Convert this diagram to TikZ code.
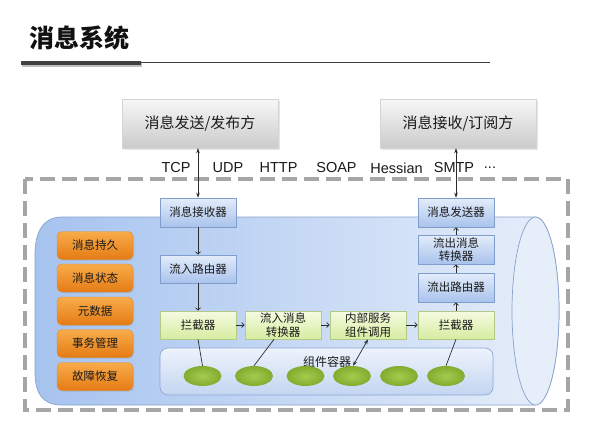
\documentclass[tikz,border=0pt]{standalone}
\usepackage{fontspec}
\setmainfont{Noto Sans CJK SC}
\newfontfamily\latinf{Liberation Sans}
\usetikzlibrary{arrows.meta,shadows,shapes.geometric}
\definecolor{txt}{HTML}{1A1A1A}
\definecolor{lineC}{HTML}{2B2B2B}
\definecolor{dashC}{HTML}{A6A6A6}
\definecolor{cylL}{HTML}{A6C3EF}
\definecolor{cylR}{HTML}{E6EEFA}
\definecolor{cylB}{HTML}{8AA2CB}
\definecolor{boxblueT}{HTML}{E3ECFA}
\definecolor{boxblueD}{HTML}{A9C3EC}
\definecolor{boxblueB}{HTML}{7F9DCD}
\definecolor{grnT}{HTML}{F5FBE2}
\definecolor{grnD}{HTML}{D6ECA0}
\definecolor{grnB}{HTML}{B2C98A}
\definecolor{orT}{HTML}{F8AC4A}
\definecolor{orD}{HTML}{E57B14}
\definecolor{orB}{HTML}{E08A2E}
\definecolor{grayT}{HTML}{F7F7F7}
\definecolor{grayD}{HTML}{CBCBCB}
\definecolor{contT}{HTML}{EEF3FC}
\definecolor{contD}{HTML}{C3D5F1}
\definecolor{contB}{HTML}{8EA8D6}
\definecolor{ellIn}{HTML}{A5CB50}
\definecolor{ellOut}{HTML}{82AC2E}
\definecolor{titleC}{HTML}{111111}
\definecolor{barC}{HTML}{404040}
\begin{document}
\begin{tikzpicture}[x=1pt,y=-1pt,
  boxfont/.style={font=\fontsize{11.5}{13.5}\selectfont, text=txt, align=center, inner sep=1pt},
  bluebox/.style={boxfont, draw=boxblueB, line width=0.6pt, top color=boxblueT, bottom color=boxblueD, minimum width=76pt, minimum height=29pt},
  greenbox/.style={boxfont, draw=grnB, line width=0.6pt, top color=grnT, bottom color=grnD, minimum width=76pt, minimum height=29pt},
  orangebox/.style={boxfont, draw=orB, line width=0.4pt, top color=orT, bottom color=orD, rounded corners=5pt, minimum width=76pt, minimum height=28pt, drop shadow={opacity=0.25, shadow xshift=1pt, shadow yshift=-1.2pt}},
  graybox/.style={font=\fontsize{15}{18}\selectfont, text=txt, draw=grayD!80, line width=0.4pt, top color=grayT, bottom color=grayD, minimum width=156pt, minimum height=49pt, drop shadow={opacity=0.2, shadow xshift=1.5pt, shadow yshift=-1.5pt}},
  greenell/.style={ellipse, inner color=ellIn, outer color=ellOut, minimum width=38pt, minimum height=20pt, inner sep=0pt},
  proto/.style={font=\latinf\fontsize{14.5}{16}\selectfont, text=txt, inner sep=0pt},
  conn/.style={draw=lineC, line width=0.7pt},
  barb/.style={conn, -{Straight Barb[length=2.5pt,width=5pt]}},
  dbl/.style={conn, {Stealth[length=5pt,width=3.5pt]}-{Stealth[length=5pt,width=3.5pt]}}
]
\useasboundingbox (0,0) rectangle (596,440);
\fill[white] (0,0) rectangle (596,440);

% title
\node[font=\fontsize{25}{30}\selectfont\bfseries, text=titleC, inner sep=0pt] (title) at (79,38) {消息系统};
\fill[black!25] (22,62) rectangle (142,66.5);
\fill[barC] (21,60.5) rectangle (141,64.5);
\draw[barC, line width=1.2pt] (141,62.5) -- (490,62.5);

% top boxes
\node[graybox] (pub) at (200,123.5) {消息发送/发布方};
\node[graybox] (sub) at (458,123.5) {消息接收/订阅方};

% protocols
\node[proto] (p1) at (176,168) {TCP};
\node[proto] (p2) at (228,168) {UDP};
\node[proto] (p3) at (278.5,168) {HTTP};
\node[proto] (p4) at (336.5,168) {SOAP};
\node[proto] (p5) at (396.5,168) {Hessian};
\node[proto] (p6) at (454,168) {SMTP};
\node[proto] (p7) at (490,168) {...};

% dashed frame
\draw[dashC, line width=3.5pt, dash pattern=on 15pt off 7pt] (25,179) rectangle (568,410);

% cylinder
\path[left color=cylL, right color=cylR, draw=cylB, line width=0.7pt]
  (535.5,217) -- (62,217) .. controls (43,217) and (35,232) .. (35,255)
  -- (35,372) .. controls (35,394) and (43,405) .. (62,405)
  -- (535.5,405) arc[start angle=90, end angle=-90, x radius=23.5, y radius=94] -- cycle;
\draw[cylB, line width=0.7pt, fill=cylR] (535.5,311) ellipse[x radius=23.5, y radius=94];

% component container
\path[draw=contB, line width=0.7pt, top color=contT, bottom color=contD, rounded corners=8pt] (160,348) rectangle (493,395);
\node[boxfont, font=\fontsize{12}{14}\selectfont] (contlabel) at (327,362) {组件容器};

\node[greenell] (e1) at (202.5,376) {};
\node[greenell] (e2) at (254,376) {};
\node[greenell] (e3) at (305.5,376) {};
\node[greenell] (e4) at (352,376) {};
\node[greenell] (e5) at (399,376) {};
\node[greenell] (e6) at (446,376) {};

% orange boxes
\node[orangebox] (o1) at (95,245.5) {消息持久};
\node[orangebox] (o2) at (95,278) {消息状态};
\node[orangebox] (o3) at (95,311) {元数据};
\node[orangebox] (o4) at (95,343.5) {事务管理};
\node[orangebox] (o5) at (95,376.5) {故障恢复};

% flow boxes
\node[bluebox] (recv) at (198,212.5) {消息接收器};
\node[bluebox, minimum height=28pt] (inroute) at (198,269) {流入路由器};
\node[greenbox, minimum height=28pt] (int1) at (198,325) {拦截器};
\node[greenbox, minimum height=28pt] (conv) at (283,325) {流入消息\\转换器};
\node[greenbox, minimum height=28pt] (svc) at (368,325) {内部服务\\组件调用};
\node[greenbox, minimum height=28pt] (int2) at (456,325) {拦截器};
\node[bluebox] (outroute) at (456,287.5) {流出路由器};
\node[bluebox] (outconv) at (456,249.5) {流出消息\\转换器};
\node[bluebox] (send) at (456,212.5) {消息发送器};

% connectors
\draw[dbl] (recv.north) -- (recv.north |- pub.south);
\draw[dbl] (send.north) -- (send.north |- sub.south);
\draw[barb] (recv.south) -- (inroute.north);
\draw[barb] (inroute.south) -- (int1.north);
\draw[barb] (int1.east) -- (conv.west);
\draw[barb] (conv.east) -- (svc.west);
\draw[barb] (svc.east) -- (int2.west);
\draw[barb] (int2.north) -- (outroute.south);
\draw[barb] (outroute.north) -- (outconv.south);
\draw[barb] (outconv.north) -- (send.south);
\draw[conn] (int1.south) -- (e1.north);
\draw[conn] ([xshift=-9pt]conv.south) -- (e2.north);
\draw[dbl] (svc.south) -- ([xshift=1pt]e4.north);
\draw[conn] (int2.south) -- (e6.north);
\end{tikzpicture}
\end{document}
